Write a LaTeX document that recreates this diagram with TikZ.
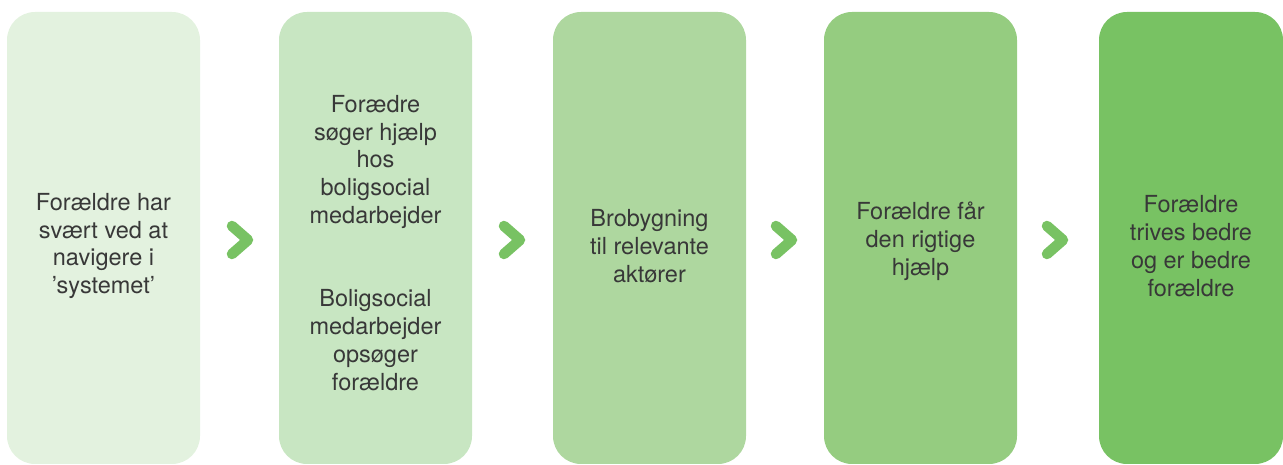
\documentclass[tikz,border=0pt]{standalone}
\usepackage{fontspec}
\setmainfont{TeX Gyre Heros}
\definecolor{cA}{HTML}{E3F2DF}
\definecolor{cB}{HTML}{C8E6C2}
\definecolor{cC}{HTML}{AED79F}
\definecolor{cD}{HTML}{95CC80}
\definecolor{cE}{HTML}{78C263}
\definecolor{txt}{HTML}{383838}
\tikzset{
  stepbox/.style={fill=#1, draw=none, rounded corners=28pt},
  label/.style={text=txt, align=center, font=\fontsize{23.5}{27.8}\selectfont, inner sep=0pt},
  chev/.style={draw=cE, line width=10.5pt, line cap=round, line join=round}
}
\begin{document}
\begin{tikzpicture}[x=1pt,y=1pt]
\useasboundingbox (0,0) rectangle (1283,465);
\fill[stepbox=cA] (7,1) rectangle (200,453);
\fill[stepbox=cB] (279,1) rectangle (472,453);
\fill[stepbox=cC] (553,1) rectangle (746,453);
\fill[stepbox=cD] (824,1) rectangle (1017,453);
\fill[stepbox=cE] (1099,1) rectangle (1283,453);
\node[label] (t1) at (103.5,219) {Forældre har\\svært ved at\\navigere i\\’systemet’};
\node[label] (t2) at (375.5,222) {Forædre\\søger hjælp\\hos\\boligsocial\\medarbejder\\[55.6pt]Boligsocial\\medarbejder\\opsøger\\forældre};
\node[label] (t3) at (649.5,219) {Brobygning\\til relevante\\aktører};
\node[label] (t4) at (920.5,224) {Forældre får\\den rigtige\\hjælp};
\node[label] (t5) at (1191,219) {Forældre\\trives bedre\\og er bedre\\forældre};
\foreach \cx/\nm in {240/c1,512/c2,784/c3,1055/c4}{
  \coordinate (\nm a) at (\cx-8,239);
  \coordinate (\nm b) at (\cx+8,225);
  \coordinate (\nm c) at (\cx-8,211);
  \draw[chev] (\nm a) -- (\nm b) -- (\nm c);
}
\end{tikzpicture}
\end{document}
